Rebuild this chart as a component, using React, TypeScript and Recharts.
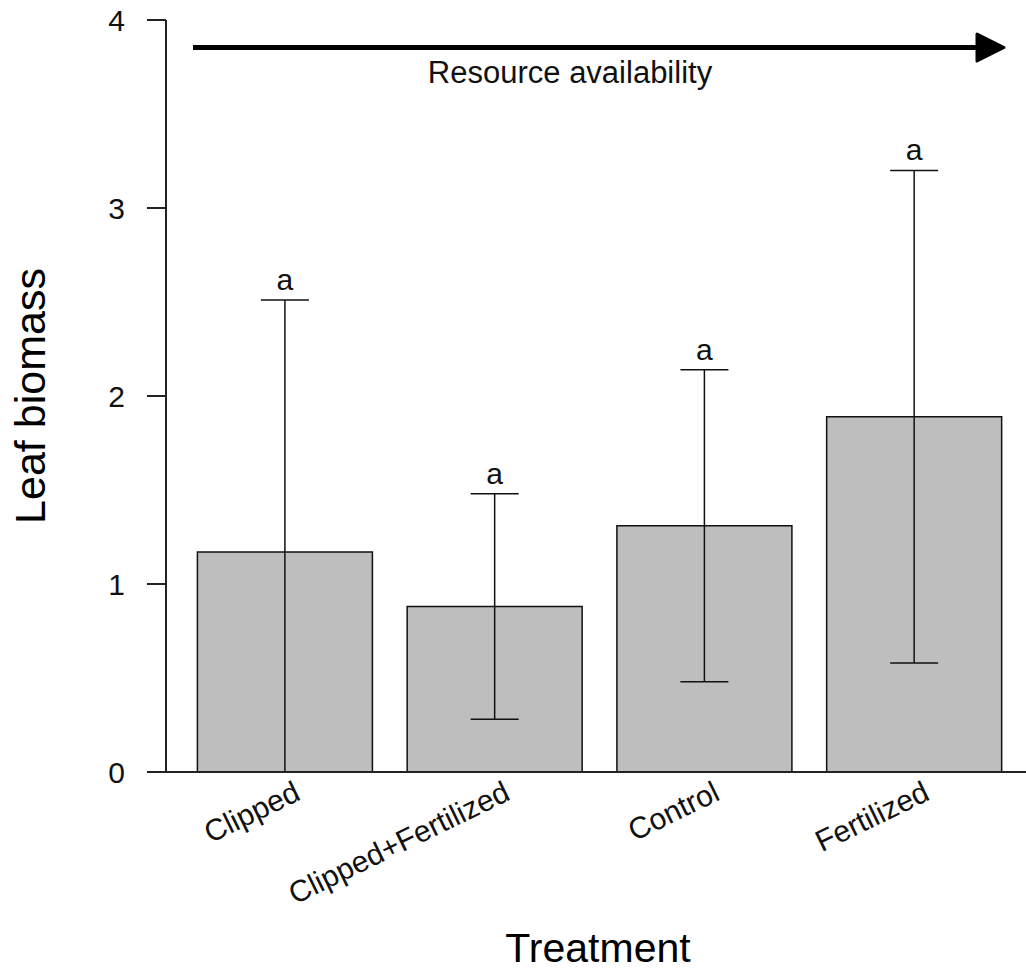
import React from 'react';
import { ComposedChart, Bar, Line, XAxis, YAxis, ErrorBar, LabelList } from 'recharts';

const treatments = ['Clipped', 'Clipped+Fertilized', 'Control', 'Fertilized'];
const biomass = [1.17, 0.88, 1.31, 1.89];
const spread = [1.34, 0.6, 0.83, 1.31];
const letters = ['a', 'a', 'a', 'a'];
const yTicks = [0, 1, 2, 3, 4];

const data = treatments.map((name, i) => ({
  name,
  biomass: biomass[i],
  // whisker stops at the axis when the lower end would go below zero
  err: [Math.min(spread[i], biomass[i]), spread[i]],
  upper: biomass[i] + spread[i],
  letter: letters[i],
}));

const FONT = '"Liberation Sans", Arial, sans-serif';

const SlantTick = (props: any) => {
  const { x, y, payload } = props;
  const tx = x + 17;
  const ty = y + 27;
  return (
    <text
      x={tx}
      y={ty}
      textAnchor="end"
      transform={`rotate(-26 ${tx} ${ty})`}
      fontSize={30}
      fontFamily={FONT}
      fill="#111"
    >
      {payload.value}
    </text>
  );
};

const LetterLabel = (props: any) => {
  const { x, y, value } = props;
  return (
    <text x={x} y={y - 10} textAnchor="middle" fontSize={30} fontFamily={FONT} fill="#111">
      {value}
    </text>
  );
};

export default function App() {
  return (
    <div style={{ position: 'absolute', left: 0, top: 0, background: '#fff' }}>
      <ComposedChart
        width={1026}
        height={972}
        data={data}
        margin={{ top: 20, right: 0, bottom: 0, left: 0 }}
        barCategoryGap="8.3%"
      >
        <XAxis
          dataKey="name"
          height={200}
          padding={{ left: 14, right: 7 }}
          axisLine={{ stroke: '#222', strokeWidth: 2 }}
          tickLine={false}
          tickSize={0}
          tickMargin={0}
          tick={<SlantTick />}
          interval={0}
        />
        <YAxis
          type="number"
          domain={[0, 4]}
          ticks={yTicks}
          width={166}
          axisLine={{ stroke: '#222', strokeWidth: 2 }}
          tickLine={{ stroke: '#222', strokeWidth: 2 }}
          tickSize={19}
          tickMargin={22}
          tick={{ fontSize: 30, fontFamily: FONT, fill: '#111' }}
        />
        <Bar dataKey="biomass" fill="#bebebe" stroke="#111" strokeWidth={1.5} isAnimationActive={false}>
          <ErrorBar dataKey="err" width={24} stroke="#111" strokeWidth={1.5} />
        </Bar>
        <Line dataKey="upper" stroke="none" dot={false} activeDot={false} isAnimationActive={false}>
          <LabelList dataKey="letter" content={<LetterLabel />} />
        </Line>

        {/* gradient annotation above the bars */}
        <line x1={193} y1={47.5} x2={982} y2={47.5} stroke="#000" strokeWidth={5} />
        <polygon
          points="977,34 1004,47.5 977,61"
          fill="#000"
          stroke="#000"
          strokeWidth={3}
          strokeLinejoin="round"
        />
        <text x={570} y={83} textAnchor="middle" fontSize={31} fontFamily={FONT} fill="#111">
          Resource availability
        </text>

        <text
          x={45}
          y={396}
          transform="rotate(-90 45 396)"
          textAnchor="middle"
          fontSize={43}
          fontFamily={FONT}
          fill="#000"
        >
          Leaf biomass
        </text>
        <text x={598} y={962} textAnchor="middle" fontSize={41} fontFamily={FONT} fill="#000">
          Treatment
        </text>
      </ComposedChart>
    </div>
  );
}
